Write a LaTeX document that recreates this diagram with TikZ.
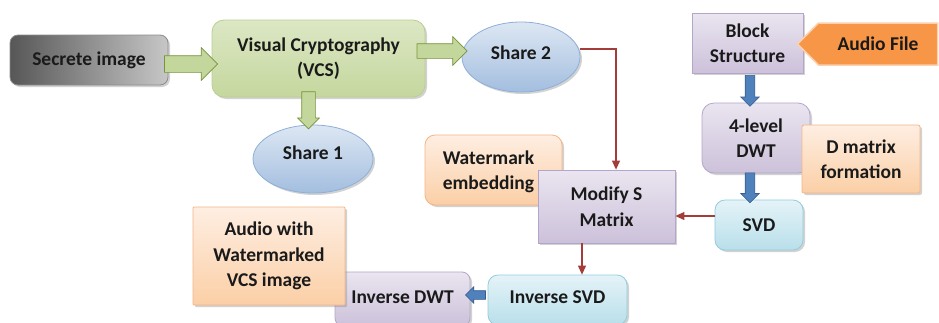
\documentclass[tikz,border=0pt]{standalone}
\usepackage{fontspec}
\setmainfont{Carlito}
\usetikzlibrary{shapes.geometric,shapes.arrows,shapes.symbols,shadows,calc,arrows.meta}
\definecolor{txt}{HTML}{1A1A1A}
\definecolor{grnA}{HTML}{DCE7C4}
\definecolor{grnB}{HTML}{C5D79E}
\definecolor{grnD}{HTML}{BACE92}
\definecolor{garF}{HTML}{C3D69B}
\definecolor{garD}{HTML}{77933C}
\definecolor{bluA}{HTML}{DDE7F3}
\definecolor{bluB}{HTML}{A3BEDF}
\definecolor{bluD}{HTML}{8EB0D8}
\definecolor{lavA}{HTML}{EAE5F0}
\definecolor{lavB}{HTML}{CCC1DA}
\definecolor{lavD}{HTML}{B3A6C9}
\definecolor{orA}{HTML}{FEEEE2}
\definecolor{orB}{HTML}{FBCFA6}
\definecolor{orD}{HTML}{F5B587}
\definecolor{cyA}{HTML}{E4F3F8}
\definecolor{cyB}{HTML}{B9DFEA}
\definecolor{cyD}{HTML}{93CDDD}
\definecolor{audF}{HTML}{F79646}
\definecolor{audD}{HTML}{FBD0AE}
\definecolor{redl}{HTML}{A33D3A}
\definecolor{barF}{HTML}{4F81BD}
\definecolor{barD}{HTML}{385D8A}
\tikzset{
  box/.style={align=center, inner sep=0pt, text=txt, line width=0.8pt,
    drop shadow={shadow xshift=2pt, shadow yshift=-2pt, opacity=0.35}},
  graybox/.style={box, rounded corners=8pt, draw=black!45,
    left color=black!66, right color=black!22},
  greenbox/.style={box, rounded corners=12pt, draw=grnD, top color=grnA, bottom color=grnB},
  shareell/.style={box, ellipse, draw=bluD, top color=bluA, bottom color=bluB},
  lavbox/.style={box, draw=lavD, top color=lavA, bottom color=lavB},
  orbox/.style={box, draw=orD, top color=orA, bottom color=orB},
  cybox/.style={box, draw=cyD, top color=cyA, bottom color=cyB},
  garrow/.style={single arrow, draw=garD, fill=garF, line width=0.7pt,
    inner xsep=0pt, inner ysep=8pt, single arrow head extend=8pt, single arrow head indent=0pt},
  barrow/.style={single arrow, draw=barD, fill=barF, line width=0.6pt,
    inner xsep=0pt, inner ysep=4.5pt, single arrow head extend=4.5pt},
  redarrow/.style={draw=redl, line width=1.1pt, -{Triangle[length=9pt,width=8pt]}}
}
\begin{document}
\begin{tikzpicture}[x=1pt,y=-1pt,font=\fontsize{19.5}{25.5}\selectfont\bfseries]
\clip (0,0) rectangle (939,322);
\useasboundingbox (0,0) rectangle (939,322);
\fill[white] (0,0) rectangle (939,322);

% left part
\node[graybox, minimum width=158pt, minimum height=50pt] (sec) at (89,60) {Secrete image};
\node[greenbox, minimum width=213pt, minimum height=77pt] (vcs) at (318.5,58.5) {Visual Cryptography\\(VCS)};
\node[shareell, minimum width=120pt, minimum height=68pt] (sh1) at (313,159) {\raisebox{12pt}{Share 1}};
\node[shareell, minimum width=118pt, minimum height=70pt] (sh2) at (521,57) {\raisebox{9pt}{Share 2}};

% middle
\node[orbox, rounded corners=10pt, minimum width=137pt, minimum height=70pt] (wm) at (493.5,170) {};
\node[align=center, inner sep=0pt, text=txt] (wmt) at ($(wm.center)+(-5,2)$) {Watermark\\embedding};
\node[lavbox, minimum width=137pt, minimum height=73pt] (mod) at (606.5,206.5) {Modify S\\Matrix};

% right column
\node[lavbox, minimum width=111pt, minimum height=60pt] (blk) at (747.5,43) {Block\\Structure};
\node[signal, signal to=west, signal pointer angle=90, draw=audD, line width=1.5pt, fill=audF,
      text=txt, minimum width=140pt, minimum height=42pt, inner sep=0pt] (aud) at (878,44) {Audio File};
\node[lavbox, rounded corners=12pt, minimum width=108pt, minimum height=70pt] (dwt) at (756,138) {4-level\\DWT};
\node[orbox, rounded corners=2pt, minimum width=118pt, minimum height=68pt] (dmat) at (861,159) {D matrix\\formation};
\node[cybox, rounded corners=10pt, minimum width=88pt, minimum height=50pt] (svd) at (759,225) {SVD};

% bottom
\node[cybox, rounded corners=10pt, minimum width=139pt, minimum height=50pt] (isvd) at (557.5,300) {\raisebox{5pt}{Inverse SVD}};
\node[lavbox, rounded corners=8pt, minimum width=135pt, minimum height=54pt] (idwt) at (402.5,299) {\raisebox{4pt}{Inverse DWT}};
\node[orbox, rounded corners=1pt, minimum width=152pt, minimum height=98pt] (awm) at (269,256) {Audio with\\Watermarked\\VCS image};

% green block arrows
\node[garrow, minimum height=53pt] (g1) at ($(sec.east)+(18.5,4)$) {};
\node[garrow, minimum height=50pt, inner ysep=7pt, single arrow head extend=7pt] (g2) at ($(vcs.east)+(13,-7.5)$) {};
\node[garrow, rotate=-90, minimum height=37pt, inner ysep=6.5pt, single arrow head extend=4pt] (g3) at ($(vcs.south)+(-10,9.5)$) {};

% blue block arrows
\node[barrow, rotate=-90, minimum height=31pt] (b1) at ($(blk.south)+(2.5,15)$) {};
\node[barrow, rotate=-90, minimum height=30pt] (b2) at ($(dwt.south)+(-6,12)$) {};
\node[barrow, rotate=180, minimum height=20pt, inner ysep=4pt, single arrow head extend=4pt] (b3) at ($(isvd.west)+(-10,-5)$) {};

% red connectors
\draw[redarrow] ([yshift=8pt]sh2.east) -| ([xshift=9.5pt]mod.north);
\draw[redarrow] ([yshift=9pt]svd.west) -- ([yshift=9pt]svd.west -| mod.east);
\draw[redarrow] ([xshift=-24.5pt]mod.south) -- ([xshift=-24.5pt]mod.south |- isvd.north);
\end{tikzpicture}
\end{document}
